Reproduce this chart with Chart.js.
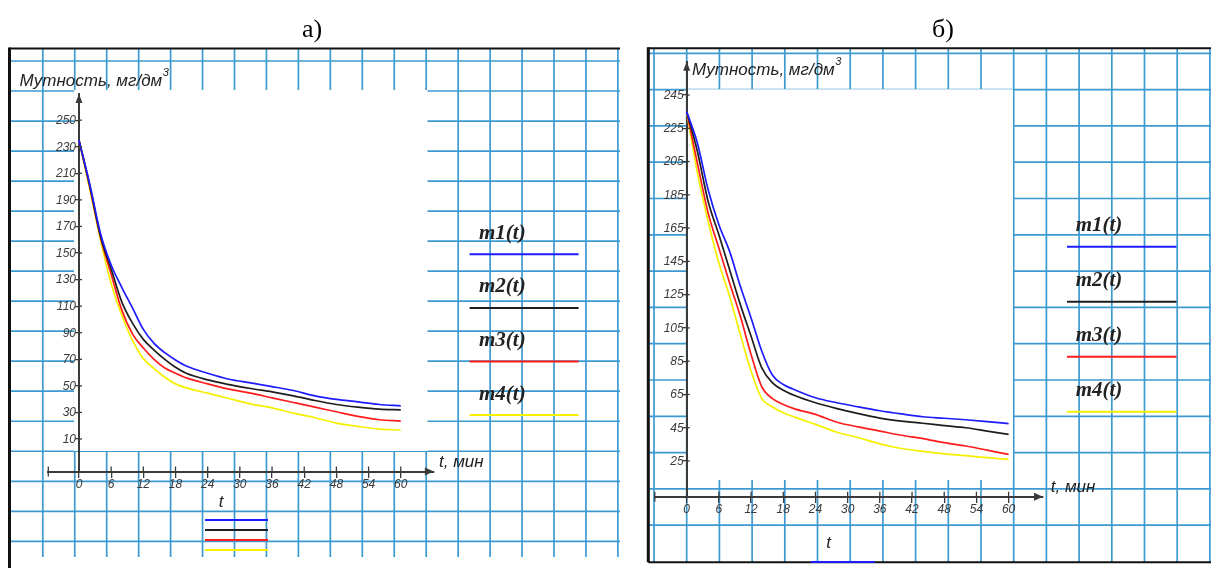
<!DOCTYPE html>
<html>
<head>
<meta charset="utf-8">
<script src="https://cdn.jsdelivr.net/npm/chart.js@4.4.1/dist/chart.umd.min.js"></script>
<style>
  html, body { margin: 0; padding: 0; background: #fff; }
  #wrap { position: relative; width: 1211px; height: 568px; overflow: hidden; }
  canvas { position: absolute; top: 0; }
  #cA { left: 0; }
  #cB { left: 620px; }
</style>
</head>
<body>
<div id="wrap">
  <canvas id="cA" width="620" height="568"></canvas>
  <canvas id="cB" width="591" height="568"></canvas>
</div>
<script>
// time, min
const times = [0, 2, 4, 6, 8, 10, 12, 14, 16, 18, 20, 24, 28, 32, 36, 40, 44, 48, 52, 56, 60];
const seriesLabels = ['m1(t)', 'm2(t)', 'm3(t)', 'm4(t)'];

// panel a)
const m1a = [235, 202, 165, 141, 124, 108.5, 92.5, 82, 75, 69.5, 65, 59.5, 55, 52.3, 49.5, 46.5, 42.5, 39.8, 38, 36, 35];
const m2a = [235, 201, 163, 138, 113, 97, 85, 77, 70, 64, 59.5, 54.5, 51, 48, 45.5, 42.5, 39, 36, 34, 32.5, 32];
const m3a = [235, 200, 162, 134, 107, 89, 78.5, 70, 63.5, 59.5, 56, 51.5, 47.5, 44.5, 41, 37.5, 34, 30.5, 27, 24.5, 23.5];
const m4a = [235, 198, 160, 127, 103, 84, 70.5, 63, 56.5, 51.5, 48.5, 44.5, 40.5, 36.5, 33.5, 29.5, 26, 22, 19.5, 17.5, 16.8];

// panel б)
const m1b = [235, 216, 188, 167, 151, 130, 111, 91, 76.5, 71, 68, 63, 60, 57.5, 55.2, 53.3, 51.6, 50.7, 49.8, 48.7, 47.5];
const m2b = [235, 211, 181, 161, 140, 119, 100, 81, 72, 67.5, 64.5, 60, 56.5, 53.5, 50.8, 49, 47.7, 46.3, 45, 43, 41];
const m3b = [235, 204, 174, 153, 132, 112, 89, 69.5, 62.5, 59, 56.5, 53, 48.3, 45.5, 43, 40.5, 38.5, 36, 34, 31.5, 29];
const m4b = [235, 198, 169, 144, 124, 101, 79, 62.5, 57.5, 54, 51.5, 47, 42.3, 39, 35.3, 32.5, 30.8, 29.3, 28.2, 27, 26];

const xTicks = [0, 6, 12, 18, 24, 30, 36, 42, 48, 54, 60];
const yTicksA = [10, 30, 50, 70, 90, 110, 130, 150, 170, 190, 210, 230, 250];
const yTicksB = [25, 45, 65, 85, 105, 125, 145, 165, 185, 205, 225, 245];

const yTitle = 'Мутность, мг/дм';
const xTitle = 't, мин';

const colors = ['#1c1cff', '#1e1e1e', '#ff1c1c', '#f4f000'];
const GRID = '#3d9ad0';
const INK = '#3a3a3a';
const TICK_FONT = 'italic 12px "Liberation Sans"';

function seg(ctx, x1, y1, x2, y2) {
  ctx.beginPath(); ctx.moveTo(x1, y1); ctx.lineTo(x2, y2); ctx.stroke();
}

function paper(p) {
  return {
    id: 'paper',
    beforeDraw(chart) {
      const ctx = chart.ctx;
      ctx.save();
      ctx.fillStyle = '#fff';
      ctx.fillRect(0, 0, chart.width, chart.height);
      // squared paper
      ctx.strokeStyle = GRID; ctx.lineWidth = 1.7;
      for (let i = 0; i < p.cols; i++) {
        const x = p.gx + i * p.dx;
        seg(ctx, x, p.frame.top, x, p.gridBottom);
      }
      for (let j = 0; j < p.rows; j++) {
        const y = p.gy + j * p.dy;
        seg(ctx, p.frame.left, y, chart.width, y);
      }
      ctx.fillStyle = '#fff';
      ctx.fillRect(p.white[0], p.white[1], p.white[2] - p.white[0], p.white[3] - p.white[1]);
      // frame
      ctx.strokeStyle = '#111';
      ctx.lineWidth = 3;
      seg(ctx, p.frame.left, p.frame.top - 1, p.frame.left, p.frame.bottom);
      ctx.lineWidth = 2;
      seg(ctx, p.frame.left, p.frame.top, chart.width, p.frame.top);
      if (p.frame.bottom < chart.height) seg(ctx, p.frame.left, p.frame.bottom, chart.width, p.frame.bottom);
      // panel letter
      ctx.fillStyle = '#000';
      ctx.font = '26px "Liberation Serif"';
      ctx.textAlign = 'center'; ctx.textBaseline = 'alphabetic';
      ctx.fillText(p.letter, p.letterX, 37);
      ctx.restore();
    },
    afterDraw(chart) {
      const ctx = chart.ctx;
      const xs = chart.scales.x, ys = chart.scales.y, area = chart.chartArea;
      const ax = xs.getPixelForValue(0), ay = area.bottom;
      ctx.save();
      ctx.strokeStyle = INK; ctx.fillStyle = INK; ctx.lineWidth = 1.3;
      // tick marks on the inner side + y tick labels
      ctx.font = TICK_FONT; ctx.textAlign = 'right'; ctx.textBaseline = 'middle';
      ys.ticks.forEach(t => {
        const y = ys.getPixelForValue(t.value);
        seg(ctx, ax, y, ax + 3, y);
        ctx.fillText(String(t.value), ax - 3, y + 0.5);
      });
      xs.ticks.forEach(t => { const x = xs.getPixelForValue(t.value); seg(ctx, x, ay, x, ay - 5); });
      seg(ctx, area.left, ay - 5, area.left, ay + 5);
      // arrows
      ctx.beginPath();
      ctx.moveTo(ax - 3.5, area.top + 9); ctx.lineTo(ax, area.top); ctx.lineTo(ax + 3.5, area.top + 9);
      ctx.closePath(); ctx.fill();
      ctx.beginPath();
      ctx.moveTo(area.right - 9, ay - 4); ctx.lineTo(area.right, ay); ctx.lineTo(area.right - 9, ay + 4);
      ctx.closePath(); ctx.fill();
      // axis titles
      ctx.fillStyle = '#222';
      ctx.textAlign = 'left'; ctx.textBaseline = 'middle';
      ctx.font = 'italic 17px "Liberation Sans"';
      ctx.fillText(yTitle, p.yTitle[0], p.yTitle[1]);
      const w = ctx.measureText(yTitle).width;
      ctx.font = 'italic 11px "Liberation Sans"';
      ctx.fillText('3', p.yTitle[0] + w + 0.5, p.yTitle[1] - 8);
      ctx.font = 'italic 17px "Liberation Sans"';
      ctx.fillText(xTitle, p.xTitle[0], p.xTitle[1]);
      ctx.textAlign = 'center';
      ctx.fillText('t', p.tLabel[0], p.tLabel[1]);
      // legend on the right
      chart.data.datasets.forEach((ds, i) => {
        const ly = p.leg.y0 + i * p.leg.dy;
        ctx.fillStyle = '#222';
        ctx.textAlign = 'left';
        ctx.font = 'italic bold 21px "Liberation Serif"';
        ctx.fillText(ds.label, p.leg.textX, ly - 21);
        ctx.strokeStyle = ds.borderColor; ctx.lineWidth = 2;
        seg(ctx, p.leg.x0, ly, p.leg.x1, ly);
      });
      // little legend under the t label
      chart.data.datasets.forEach((ds, i) => {
        const ly = p.bot.y0 + i * 10;
        if (ly > chart.height) return;
        ctx.strokeStyle = ds.borderColor; ctx.lineWidth = 2;
        seg(ctx, p.bot.x0, ly, p.bot.x1, ly);
      });
      ctx.restore();
    }
  };
}

function makePanel(canvas, series, yTicks, range, pad, spec) {
  const tickFont = { family: 'Liberation Sans', style: 'italic', size: 12 };
  return new Chart(canvas.getContext('2d'), {
    type: 'line',
    data: {
      datasets: series.map((vals, i) => ({
        label: seriesLabels[i],
        data: times.map((t, k) => ({ x: t, y: vals[k] })),
        borderColor: colors[i],
        borderWidth: 1.7,
        pointRadius: 0,
        cubicInterpolationMode: 'monotone',
        fill: false
      }))
    },
    options: {
      responsive: false,
      animation: false,
      devicePixelRatio: 1,
      layout: { padding: pad },
      scales: {
        x: {
          type: 'linear', min: range.x[0], max: range.x[1],
          position: { y: range.y[0] },
          afterBuildTicks: (s) => { s.ticks = xTicks.map(v => ({ value: v })); },
          ticks: { font: tickFont, color: INK, padding: 1, maxRotation: 0, autoSkip: false },
          grid: { drawOnChartArea: false, tickLength: 5, color: INK, lineWidth: 1.3 },
          border: { color: INK, width: 2 }
        },
        y: {
          type: 'linear', min: range.y[0], max: range.y[1],
          position: { x: 0 },
          afterBuildTicks: (s) => { s.ticks = yTicks.map(v => ({ value: v })); },
          ticks: { display: false },
          grid: { drawOnChartArea: false, tickLength: 3, color: INK, lineWidth: 1.3 },
          border: { color: INK, width: 2 }
        }
      },
      plugins: { legend: { display: false }, tooltip: { enabled: false } }
    },
    plugins: [paper(spec)]
  });
}

makePanel(document.getElementById('cA'), [m1a, m2a, m3a, m4a], yTicksA,
  { x: [-5.72, 66.18], y: [-14.45, 269.7] },
  { left: 48.3, right: 186.1, top: 94, bottom: 96.5 },
  {
    letter: 'а)', letterX: 312,
    frame: { left: 9.5, top: 48.5, bottom: 600 },
    gx: 42.8, dx: 31.95, cols: 19, gridBottom: 557,
    gy: 61, dy: 30.02, rows: 17,
    white: [74, 90, 427.5, 451],
    yTitle: [19.5, 81], xTitle: [439, 462], tLabel: [221, 502],
    leg: { textX: 479, x0: 469.6, x1: 578.6, y0: 254.3, dy: 53.6 },
    bot: { x0: 205, x1: 268, y0: 520 }
  });

makePanel(document.getElementById('cB'), [m1b, m2b, m3b, m4b], yTicksB,
  { x: [-5.946, 66.41], y: [3.54, 265.02] },
  { left: 34.8, right: 168, top: 61.7, bottom: 71.3 },
  {
    letter: 'б)', letterX: 323,
    frame: { left: 28.3, top: 48.3, bottom: 562.3 },
    gx: 34, dx: 32.7, cols: 18, gridBottom: 562.3,
    gy: 53.3, dy: 36.3, rows: 14,
    white: [68, 89.3, 393, 480],
    yTitle: [72, 70], xTitle: [430.8, 487], tLabel: [208.5, 543],
    leg: { textX: 455.7, x0: 447, x1: 556.5, y0: 246.7, dy: 55 },
    bot: { x0: 191, x1: 254.5, y0: 562 }
  });
</script>
</body>
</html>
